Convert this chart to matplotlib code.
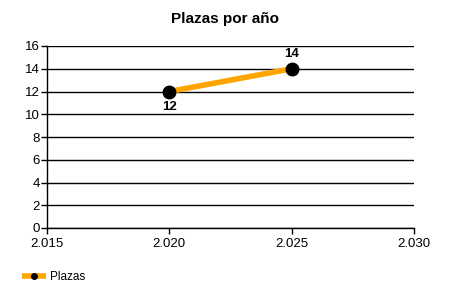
import matplotlib
matplotlib.use("Agg")
import matplotlib.pyplot as plt
from matplotlib.ticker import FuncFormatter
from matplotlib.lines import Line2D

years = [2020, 2025]
plazas = [12, 14]
series_name = "Plazas"
title = "Plazas por año"
xticks = [2015, 2020, 2025, 2030]
yticks = list(range(0, 17, 2))

plt.rcParams['font.family'] = ['Liberation Sans', 'DejaVu Sans']

fig = plt.figure(figsize=(4.5, 3), dpi=100)
ax = fig.add_axes([47/450, 1-228/300, (414-47)/450, (228-46)/300])

line, = ax.plot(years, plazas, color="#FFA500", lw=4, marker='o', ms=9,
                mfc='black', mec='black', zorder=3, solid_capstyle='butt', label=series_name)
for i, (x, y) in enumerate(zip(years, plazas)):
    if i == 0:
        ax.annotate(str(y), (x, y), xytext=(0, -7), textcoords='offset points',
                    ha='center', va='top', fontsize=9.5, fontweight='bold')
    else:
        ax.annotate(str(y), (x, y), xytext=(0, 6), textcoords='offset points',
                    ha='center', va='bottom', fontsize=9.5, fontweight='bold')

ax.set_xlim(2015, 2030)
ax.set_ylim(0, 16)
ax.set_xticks(xticks)
ax.set_yticks(yticks)
ax.xaxis.set_major_formatter(FuncFormatter(lambda v, p: f"{int(v):,}".replace(",", ".")))
ax.grid(axis='y', color='black', lw=1)
ax.set_axisbelow(True)
for s in ['top', 'right']:
    ax.spines[s].set_visible(False)
for s in ['left', 'bottom']:
    ax.spines[s].set_linewidth(1)
ax.tick_params(direction='out', length=4, width=1, labelsize=9.5)
ax.tick_params(axis='y', pad=1)
ax.tick_params(axis='x', pad=3)

fig.text(0.5, 1-19/300, title, ha='center', va='center', fontsize=11, fontweight='bold')

handle = Line2D([], [], color="#FFA500", lw=4, marker='o', ms=4, mfc='black', mec='black',
                solid_capstyle='butt')
fig.legend(handles=[handle], labels=[series_name], loc='center left',
           bbox_to_anchor=(22/450, 1-277/300), frameon=False,
           fontsize=8.5, handlelength=2.0, handletextpad=0.4, borderpad=0, borderaxespad=0)

fig.savefig("out.png", dpi=100)
